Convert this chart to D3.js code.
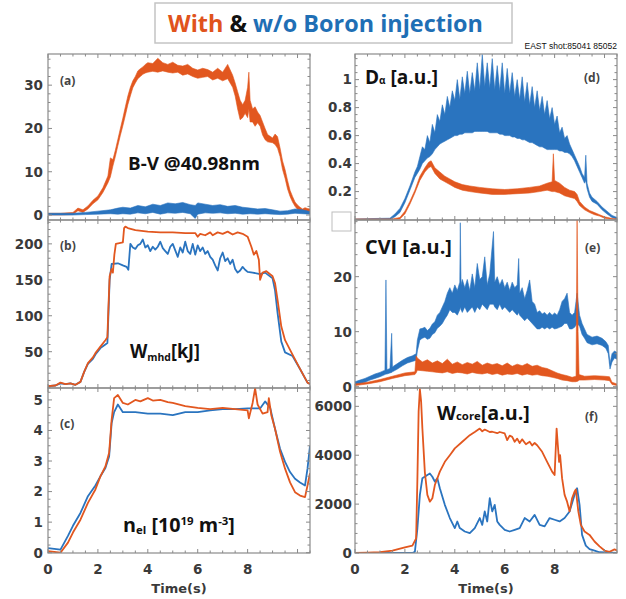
<!DOCTYPE html>
<html><head><meta charset="utf-8">
<script src="https://cdn.jsdelivr.net/npm/d3@7"></script>
<style>body{margin:0;background:#fff;} svg{display:block;}</style>
</head><body><svg id="c" width="626" height="599"></svg>
<script>
const ORANGE = "#e2571f", BLUE = "#2a74bf";

// ---------- DATA ----------
const timeTicks = [0, 2, 4, 6, 8];
const ticksA = [0, 10, 20, 30];
const ticksB = [50, 100, 150, 200];
const ticksC = [0, 1, 2, 3, 4, 5];
const ticksD = [0.2, 0.4, 0.6, 0.8, 1];
const ticksE = [0, 10, 20];
const ticksF = [0, 2000, 4000, 6000];

// (a) B-V @40.98nm  [t, low, high]
const bvWith = [[0,0,0.4],[0.5,0,0.4],[1.0,0.1,0.6],[1.2,1.0,1.6],[1.4,0.6,1.2],[1.6,1.4,2.1],[1.8,2.6,3.4],[2.0,3.5,4.4],[2.2,5.2,6.3],[2.4,7.4,9.0],[2.5,8.8,13.2],[2.6,11.3,12.8],[2.7,13.5,15],[2.8,16,17.5],[2.9,18.4,20],[3.0,20.6,22.4],[3.1,23,25],[3.2,25.5,27.5],[3.3,27.5,29.5],[3.4,29.4,31],[3.5,30.5,32],[3.6,31.5,33.3],[3.7,32,33.8],[3.8,32.5,34.2],[3.9,32.8,34.8],[4.0,33,35.2],[4.2,33.2,35],[4.4,33,36.2],[4.6,33.3,35.2],[4.8,33,34.8],[5.0,32.8,35.3],[5.2,33,34.6],[5.4,32.3,34.4],[5.6,32.6,34.8],[5.8,32,33.9],[6.0,31.6,33.5],[6.2,31.8,33.9],[6.4,32,33.6],[6.6,31.2,33],[6.8,31.6,33.9],[7.0,31,33],[7.2,31.5,34.8],[7.4,29.5,32.3],[7.5,27.5,30.5],[7.6,24.5,28.5],[7.7,22,26.5],[7.8,22.5,25.5],[7.9,23.5,26.5],[8.0,22.5,29.5],[8.05,24.5,33],[8.1,21.5,26.5],[8.2,21.5,24.5],[8.3,20.5,25],[8.4,21.3,23.8],[8.5,20.5,23],[8.6,18.5,21.5],[8.7,17.4,20],[8.8,16.9,18.6],[8.9,16.8,18.2],[9.0,16.7,17.8],[9.1,16.3,18.7],[9.2,15.4,18.1],[9.3,13.5,15.5],[9.4,10.5,12.5],[9.5,8.5,10.5],[9.6,6,8],[9.7,4.3,5.7],[9.8,3,4.3],[9.9,2,3],[10.0,1.3,2.3],[10.1,0.9,1.8],[10.2,0.5,1.4],[10.3,0.7,1.7],[10.4,0.6,1.5],[10.5,0.7,1.4]];
const bvWithout = [[0,0,0.4],[1.0,0,0.4],[1.5,0.1,0.6],[2.0,0.2,0.9],[2.5,0.3,1.2],[2.8,0.2,1.6],[3.0,0.3,1.8],[3.3,0.2,1.6],[3.6,0.5,2.2],[3.9,0.3,1.9],[4.2,0.6,2.5],[4.5,0.2,2.2],[4.8,0.5,2.8],[5.1,0.4,2.6],[5.4,0.6,2.9],[5.7,0.3,2.4],[5.9,-0.8,2.2],[6.0,0.2,2.8],[6.3,0.5,2.5],[6.6,0.4,2.2],[6.9,0.5,2.4],[7.2,0.3,2.0],[7.5,0.4,2.2],[7.8,0.2,1.8],[8.1,0.3,1.6],[8.4,0.2,1.4],[8.7,0.3,1.5],[9.0,0.2,1.2],[9.3,0.1,0.9],[9.6,0.2,1.0],[9.9,0.4,1.4],[10.2,0.3,1.2],[10.5,0.2,0.8]];

// (b) Wmhd [kJ]
const wmhdWith = [[0,2],[0.3,3],[0.5,7],[0.7,5],[0.9,6],[1.1,4],[1.3,8],[1.45,22],[1.6,34],[1.8,42],[1.9,48],[2.1,57],[2.3,66],[2.38,70],[2.42,110],[2.47,155],[2.55,165],[2.6,160],[2.66,185],[2.72,200],[3.0,202],[3.05,222],[3.1,224],[3.2,222],[3.5,219],[4.0,217],[4.5,216],[5.0,216],[5.5,215],[5.9,215],[6.0,210],[6.1,214],[6.3,212],[6.5,216],[6.6,212],[6.8,216],[7.0,214],[7.2,217],[7.4,213],[7.6,216],[7.8,214],[8.0,210],[8.15,196],[8.25,185],[8.35,190],[8.45,178],[8.5,150],[8.6,160],[8.75,162],[9.0,155],[9.1,145],[9.2,122],[9.35,85],[9.5,66],[9.8,46],[10.1,26],[10.4,7],[10.5,5]];
const wmhdWithout = [[0,2],[0.3,3],[0.5,6],[0.7,5],[0.9,6],[1.1,4],[1.3,8],[1.45,22],[1.6,33],[1.8,40],[1.9,46],[2.1,55],[2.3,60],[2.38,62],[2.42,100],[2.47,150],[2.55,172],[2.8,173],[3.0,170],[3.15,168],[3.22,164],[3.3,200],[3.4,195],[3.5,193],[3.6,198],[3.7,200],[3.8,206],[3.9,195],[4.0,198],[4.1,190],[4.2,196],[4.3,192],[4.4,196],[4.5,203],[4.6,194],[4.7,190],[4.8,186],[4.9,196],[5.0,200],[5.1,191],[5.2,182],[5.3,195],[5.4,188],[5.5,203],[5.6,190],[5.7,186],[5.8,200],[5.9,185],[6.0,198],[6.1,190],[6.2,195],[6.3,186],[6.4,190],[6.5,182],[6.6,178],[6.7,170],[6.8,163],[6.9,180],[7.0,188],[7.1,176],[7.2,180],[7.3,172],[7.4,178],[7.5,165],[7.6,160],[7.7,163],[7.8,168],[7.9,164],[8.0,161],[8.2,160],[8.5,158],[8.7,160],[9.0,152],[9.1,135],[9.2,104],[9.35,64],[9.5,49],[9.8,44],[10.1,26],[10.4,7],[10.5,5]];

// (c) nel [10^19 m^-3]
const nelWith = [[0,0.05],[0.5,0],[0.8,0.33],[1.0,0.66],[1.3,1.08],[1.6,1.63],[1.9,2.07],[2.1,2.5],[2.3,2.82],[2.45,3.27],[2.55,4.35],[2.65,5.06],[2.8,5.16],[3.0,4.9],[3.2,4.85],[3.5,5.0],[3.7,4.95],[4.0,5.06],[4.2,4.98],[4.5,5.0],[4.8,4.93],[5.0,4.9],[5.5,4.8],[6.0,4.74],[6.5,4.7],[7.0,4.74],[7.5,4.7],[8.0,4.66],[8.05,4.4],[8.2,4.9],[8.3,5.38],[8.4,4.85],[8.6,4.55],[8.8,4.6],[8.85,5.06],[8.95,4.5],[9.1,4.05],[9.3,3.3],[9.5,2.75],[9.7,2.3],[9.9,1.98],[10.1,1.87],[10.3,1.82],[10.4,2.2],[10.5,2.6]];
const nelWithout = [[0,0.15],[0.5,0.1],[0.8,0.55],[1.0,0.88],[1.3,1.3],[1.6,1.85],[1.9,2.2],[2.1,2.5],[2.3,2.77],[2.45,3.15],[2.55,4.24],[2.65,4.6],[2.8,4.85],[3.0,4.6],[3.5,4.6],[4.0,4.55],[4.5,4.55],[5.0,4.5],[5.5,4.6],[6.0,4.6],[6.5,4.66],[7.0,4.7],[7.5,4.7],[8.0,4.72],[8.5,4.72],[8.7,4.95],[8.9,4.75],[9.1,4.05],[9.3,3.4],[9.5,2.97],[9.7,2.64],[9.9,2.42],[10.1,2.3],[10.3,2.2],[10.4,2.75],[10.5,3.5]];

// (d) D-alpha [a.u.]  [t, low, high]
const daWith = [[0,0,0.005],[1.5,0,0.005],[1.8,0.005,0.015],[2.0,0.04,0.06],[2.2,0.11,0.13],[2.4,0.19,0.21],[2.6,0.28,0.31],[2.8,0.34,0.37],[2.95,0.37,0.41],[3.05,0.38,0.42],[3.2,0.33,0.37],[3.4,0.29,0.34],[3.6,0.27,0.31],[3.8,0.25,0.29],[4.0,0.23,0.27],[4.3,0.21,0.25],[4.6,0.2,0.24],[5.0,0.19,0.23],[5.5,0.18,0.22],[6.0,0.18,0.215],[6.5,0.185,0.22],[7.0,0.19,0.23],[7.4,0.2,0.24],[7.7,0.21,0.26],[7.9,0.2,0.27],[7.95,0.2,0.47],[8.0,0.2,0.28],[8.2,0.19,0.26],[8.4,0.17,0.23],[8.6,0.16,0.21],[8.8,0.15,0.2],[8.9,0.13,0.18],[9.0,0.1,0.13],[9.2,0.07,0.09],[9.4,0.05,0.065],[9.6,0.035,0.05],[9.8,0.025,0.035],[10.0,0.01,0.02],[10.3,0.002,0.008],[10.5,0,0.005]];
const daWithout = [[0,0,0.005],[1.4,0,0.01],[1.6,0.02,0.04],[1.8,0.05,0.08],[2.0,0.12,0.15],[2.2,0.21,0.24],[2.4,0.3,0.34],[2.5,0.33,0.38],[2.6,0.36,0.45],[2.7,0.4,0.52],[2.8,0.42,0.5],[2.9,0.44,0.6],[3.0,0.45,0.55],[3.1,0.47,0.68],[3.2,0.5,0.62],[3.3,0.52,0.75],[3.4,0.54,0.7],[3.5,0.55,0.82],[3.6,0.56,0.75],[3.7,0.57,0.88],[3.8,0.58,0.8],[3.9,0.59,0.92],[4.0,0.6,0.85],[4.1,0.6,1.0],[4.2,0.61,0.86],[4.3,0.61,1.02],[4.4,0.62,0.9],[4.5,0.62,1.06],[4.6,0.62,0.9],[4.7,0.62,1.05],[4.8,0.63,0.92],[4.9,0.63,1.12],[5.0,0.63,0.93],[5.1,0.63,1.18],[5.2,0.63,0.95],[5.3,0.63,1.12],[5.4,0.62,0.94],[5.5,0.62,1.15],[5.6,0.62,0.93],[5.7,0.62,1.1],[5.8,0.61,0.92],[5.9,0.61,1.12],[6.0,0.6,0.9],[6.1,0.6,1.08],[6.2,0.6,0.9],[6.3,0.59,1.05],[6.4,0.59,0.88],[6.5,0.58,1.0],[6.6,0.58,0.86],[6.7,0.57,1.02],[6.8,0.57,0.84],[6.9,0.56,0.98],[7.0,0.55,0.82],[7.1,0.55,0.95],[7.2,0.54,0.8],[7.3,0.53,0.92],[7.4,0.52,0.78],[7.5,0.52,0.88],[7.6,0.51,0.75],[7.7,0.5,0.85],[7.8,0.5,0.72],[7.9,0.5,0.8],[8.0,0.5,0.68],[8.1,0.5,0.74],[8.2,0.49,0.62],[8.3,0.49,0.66],[8.4,0.48,0.58],[8.5,0.48,0.6],[8.6,0.47,0.54],[8.7,0.45,0.5],[8.8,0.42,0.46],[8.9,0.38,0.42],[9.0,0.34,0.38],[9.1,0.3,0.33],[9.2,0.26,0.3],[9.25,0.28,0.46],[9.3,0.22,0.26],[9.4,0.16,0.19],[9.5,0.13,0.16],[9.7,0.11,0.13],[9.9,0.07,0.09],[10.1,0.04,0.06],[10.3,0.015,0.03],[10.5,0.005,0.015]];

// (e) CVI [a.u.]  [t, low, high]
const cviWith = [[0,0.2,0.5],[0.5,0.5,0.8],[1.0,0.9,1.3],[1.5,1.5,1.9],[2.0,2.0,2.5],[2.4,2.2,2.7],[2.45,2.5,5.6],[2.5,3.0,5.2],[2.7,2.9,4.5],[2.9,2.8,4.9],[3.1,2.7,4.3],[3.3,2.6,4.7],[3.5,2.5,4.2],[3.7,2.7,5.0],[3.9,2.4,4.1],[4.1,2.6,4.5],[4.3,2.5,4.0],[4.5,2.3,4.4],[4.7,2.6,4.1],[4.9,2.4,4.6],[5.1,2.3,3.9],[5.3,2.5,4.3],[5.5,2.2,4.0],[5.7,2.4,4.2],[5.9,2.1,3.8],[6.1,2.3,4.3],[6.3,2.2,3.7],[6.5,2.4,4.1],[6.7,2.1,3.8],[6.9,2.3,4.2],[7.1,2.1,3.7],[7.3,2.2,3.9],[7.5,2.0,3.5],[7.7,1.9,3.3],[7.9,1.7,2.9],[8.1,1.5,2.5],[8.3,1.2,2.2],[8.5,1.1,2.0],[8.7,0.9,1.7],[8.86,0.9,1.9],[8.9,1.0,31],[8.94,1.0,10],[8.98,1.2,2.2],[9.2,1.2,1.9],[9.6,1.3,2.0],[10.0,1.2,1.9],[10.2,1.1,1.8],[10.3,0.4,0.8],[10.5,0.2,0.5]];
const cviWithout = [[0,0.3,0.9],[0.2,0.5,1.2],[0.4,0.8,1.5],[0.6,1.2,1.9],[0.8,1.5,2.3],[1.0,1.8,2.6],[1.2,2.2,3.0],[1.24,2.3,19.4],[1.28,2.3,3.1],[1.4,2.5,3.3],[1.47,2.6,9.7],[1.5,2.7,3.6],[1.7,3.2,4.2],[1.9,3.8,4.8],[2.1,4.3,5.3],[2.3,4.6,5.6],[2.45,4.8,6.0],[2.5,6.5,8.5],[2.6,8.5,10.5],[2.7,8.8,10.6],[2.8,9.0,10.8],[2.9,8.6,10.2],[3.0,8.8,10.6],[3.1,9.5,11.4],[3.2,9.8,11.8],[3.3,10.6,13.0],[3.4,11.0,13.5],[3.5,11.5,14.5],[3.6,12.3,15.5],[3.7,13.0,17.0],[3.8,14.0,18.0],[3.9,13.5,17.0],[4.0,13.5,18.5],[4.1,13.0,17.5],[4.2,14.0,19.0],[4.22,14.5,29.8],[4.25,14.0,18.5],[4.3,13.5,19.5],[4.4,14.5,18.0],[4.5,13.5,19.5],[4.6,14.0,17.5],[4.7,14.5,20.5],[4.8,13.5,18.0],[4.9,14.5,22.4],[5.0,14.0,19.5],[5.1,15.0,20.0],[5.2,14.5,23.6],[5.3,14.0,18.5],[5.4,15.0,20.5],[5.55,15.0,28.2],[5.6,14.5,19.0],[5.7,14.0,20.0],[5.8,15.0,18.5],[5.9,14.0,19.5],[6.0,14.5,18.0],[6.1,14.0,19.0],[6.2,13.5,17.5],[6.3,14.0,19.0],[6.4,13.5,18.0],[6.5,13.0,18.5],[6.56,13.5,23.3],[6.6,13.0,17.0],[6.7,12.5,18.0],[6.8,12.0,16.0],[6.9,12.5,17.5],[7.0,12.0,19.4],[7.1,11.5,15.5],[7.2,11.0,15.0],[7.3,10.5,13.5],[7.4,10.5,13.8],[7.5,10.8,13.2],[7.6,10.5,13.5],[7.7,10.8,13.0],[7.8,10.5,13.5],[7.9,10.8,13.0],[8.0,10.5,13.4],[8.1,10.6,13.0],[8.2,10.8,14.0],[8.3,11.0,15.5],[8.4,11.5,16.0],[8.5,11.5,17.0],[8.6,10.5,13.5],[8.7,10.5,13.0],[8.8,10.8,13.5],[8.9,11.5,17.0],[9.0,11.0,13.0],[9.1,9.5,11.5],[9.2,8.8,10.5],[9.3,8.0,9.5],[9.5,7.6,9.0],[9.7,7.8,9.2],[9.9,7.5,8.8],[10.05,7.0,8.2],[10.15,6.0,7.5],[10.22,3.2,4.2],[10.3,4.5,6.0],[10.4,5.2,6.5],[10.5,5.0,6.2]];

// (f) Wcore [a.u.]
const wcoreWith = [[0,0],[0.5,10],[1.0,30],[1.5,95],[2.0,230],[2.3,300],[2.45,600],[2.5,3000],[2.55,5800],[2.6,6700],[2.65,6200],[2.7,5100],[2.8,3300],[2.9,2380],[3.0,2100],[3.1,2240],[3.2,2780],[3.4,3330],[3.6,3730],[3.8,4000],[4.0,4280],[4.3,4550],[4.6,4820],[4.8,4950],[5.0,5090],[5.1,4980],[5.2,5050],[5.4,4950],[5.5,4960],[5.7,4900],[5.8,4950],[6.0,4890],[6.1,4620],[6.2,4800],[6.3,4750],[6.4,4550],[6.5,4680],[6.6,4500],[6.7,4650],[6.85,4450],[7.0,4550],[7.1,4400],[7.2,4500],[7.3,4410],[7.5,4140],[7.7,3730],[7.9,3330],[8.0,3190],[8.08,5090],[8.13,4400],[8.18,3730],[8.22,4000],[8.3,3050],[8.4,2380],[8.5,2100],[8.6,1700],[8.7,2240],[8.8,2510],[8.85,2600],[8.95,1700],[9.05,1150],[9.2,880],[9.4,740],[9.6,470],[9.8,270],[10.0,100],[10.2,50],[10.4,150],[10.5,100]];
const wcoreWithout = [[0,0],[2.3,0],[2.4,50],[2.5,1000],[2.6,2380],[2.7,3060],[2.9,3190],[3.0,3250],[3.1,3120],[3.2,2920],[3.3,3060],[3.4,2650],[3.6,1970],[3.8,1430],[4.0,1020],[4.1,1290],[4.2,1020],[4.4,880],[4.6,810],[4.8,1020],[5.0,1430],[5.1,1150],[5.2,1700],[5.3,1290],[5.4,2240],[5.5,1700],[5.6,1970],[5.7,1290],[5.8,1150],[6.0,950],[6.2,880],[6.4,950],[6.6,1020],[6.8,1430],[7.0,1290],[7.2,1560],[7.4,1150],[7.6,1090],[7.8,1430],[8.0,1360],[8.2,1290],[8.4,1430],[8.6,1700],[8.8,2380],[8.9,2650],[9.0,1970],[9.1,740],[9.25,300],[9.4,160],[9.6,100],[9.8,30],[10.5,0]];

// ---------- DRAW ----------
const svg = d3.select("#c");
svg.append("rect").attr("width",626).attr("height",599).attr("fill","#fff");

const colL = {x0:48, x1:310}, colR = {x0:355, x1:617};
const rows = [[54,220],[220,388],[388,553]];
const TICKFONT = "'DejaVu Sans', sans-serif";

const panels = [
  {id:"a", col:colL, row:rows[0], ydom:[-1.15,37.2], yticks:ticksA, ystep:2, order:[[bvWith,ORANGE,true],[bvWithout,BLUE,true]]},
  {id:"b", col:colL, row:rows[1], ydom:[-0.5,233.2], yticks:ticksB, ystep:10, order:[[wmhdWithout,BLUE,false],[wmhdWith,ORANGE,false]]},
  {id:"c", col:colL, row:rows[2], ydom:[-0.01,5.39], yticks:ticksC, ystep:0.25, order:[[nelWithout,BLUE,false],[nelWith,ORANGE,false]], xaxis:true},
  {id:"d", col:colR, row:rows[0], ydom:[-0.003,1.183], yticks:ticksD, ystep:0.05, order:[[daWithout,BLUE,true],[daWith,ORANGE,true]]},
  {id:"e", col:colR, row:rows[1], ydom:[-0.24,30.3], yticks:ticksE, ystep:2, order:[[cviWithout,BLUE,true],[cviWith,ORANGE,true]]},
  {id:"f", col:colR, row:rows[2], ydom:[0,6750], yticks:ticksF, ystep:400, order:[[wcoreWithout,BLUE,false],[wcoreWith,ORANGE,false]], xaxis:true}
];

const defs = svg.append("defs");
panels.forEach(p => {
  const x = d3.scaleLinear().domain([0,10.5]).range([p.col.x0, p.col.x1]);
  const y = d3.scaleLinear().domain(p.ydom).range([p.row[1], p.row[0]]);
  const g = svg.append("g");
  defs.append("clipPath").attr("id","clip"+p.id).append("rect")
    .attr("x",p.col.x0).attr("y",p.row[0]).attr("width",p.col.x1-p.col.x0).attr("height",p.row[1]-p.row[0]);
  const plot = g.append("g").attr("clip-path",`url(#clip${p.id})`);
  p.order.forEach(([data,color,noisy]) => {
    if (noisy) {
      const area = d3.area().x(d=>x(d[0])).y0(d=>y(d[1])).y1(d=>y(d[2]));
      plot.append("path").attr("d",area(data)).attr("fill",color).attr("stroke",color).attr("stroke-width",0.6).attr("stroke-linejoin","round");
    } else {
      const line = d3.line().x(d=>x(d[0])).y(d=>y(d[1]));
      plot.append("path").attr("d",line(data)).attr("fill","none").attr("stroke",color).attr("stroke-width",1.8).attr("stroke-linejoin","round");
    }
  });
  // minor ticks
  const tk = g.append("g").attr("stroke","#8a8a8a").attr("stroke-width",1);
  d3.range(0,10.5+1e-9,0.5).forEach(t => {
    const L = (Math.abs(t%2)<1e-6)?4:2.5;
    tk.append("line").attr("x1",x(t)).attr("x2",x(t)).attr("y1",p.row[1]).attr("y2",p.row[1]-L);
    tk.append("line").attr("x1",x(t)).attr("x2",x(t)).attr("y1",p.row[0]).attr("y2",p.row[0]+L);
  });
  const ys = d3.range(Math.ceil(p.ydom[0]/p.ystep)*p.ystep, p.ydom[1], p.ystep);
  ys.forEach(v => {
    const major = p.yticks.some(t=>Math.abs(t-v)<p.ystep/10);
    const L = major?4:2.5;
    tk.append("line").attr("x1",p.col.x0).attr("x2",p.col.x0+L).attr("y1",y(v)).attr("y2",y(v));
    tk.append("line").attr("x1",p.col.x1).attr("x2",p.col.x1-L).attr("y1",y(v)).attr("y2",y(v));
  });
  // frame
  g.append("rect").attr("x",p.col.x0).attr("y",p.row[0]).attr("width",p.col.x1-p.col.x0).attr("height",p.row[1]-p.row[0])
    .attr("fill","none").attr("stroke","#8a8a8a").attr("stroke-width",1.2);
  // y tick labels
  const lx = p.col === colL ? p.col.x0-5 : p.col.x0-3;
  g.selectAll("text.yt").data(p.yticks).enter().append("text")
    .attr("x",lx).attr("y",d=>y(d)).attr("dy","0.36em").attr("text-anchor","end")
    .attr("font-family",TICKFONT).attr("font-weight","bold").attr("font-size",13.5).attr("fill","#3a3a3a")
    .text(d=>d3.format("~g")(d));
  if (p.xaxis) {
    g.selectAll("text.xt").data(timeTicks).enter().append("text")
      .attr("x",d=>x(d)).attr("y",574).attr("text-anchor","middle")
      .attr("font-family",TICKFONT).attr("font-weight","bold").attr("font-size",13.5).attr("fill","#3a3a3a")
      .text(d=>d);
    g.append("text").attr("x",(p.col.x0+p.col.x1)/2).attr("y",593).attr("text-anchor","middle")
      .attr("font-family",TICKFONT).attr("font-weight","bold").attr("font-size",13).attr("fill","#3a3a3a")
      .text("Time(s)");
  }
});

// ---------- LABELS ----------
function rich(parts, x0, base, width, color, family) {
  const t = svg.append("text").attr("y",base).attr("font-family",family||"'Open Sans', sans-serif")
    .attr("font-weight","bold").attr("fill",color||"#111");
  parts.forEach(pt => {
    t.append("tspan").attr("y",base+(pt.dy||0)).attr("font-size",pt.s).attr("fill",pt.c||null).text(pt.t);
  });
  const b = t.node().getBBox();
  const s = width ? width/b.width : 1;
  t.attr("transform",`translate(${x0},0) scale(${s},1) translate(${-b.x},0)`);
  return t;
}

// title box
svg.append("rect").attr("x",155).attr("y",3).attr("width",357).attr("height",40).attr("fill","#fff").attr("stroke","#c4c4c4").attr("stroke-width",1.5);
rich([{t:"With",s:23,c:"#e0531c"},{t:" & ",s:23,c:"#111"},{t:"w/o Boron injection",s:23,c:"#1f6fb5"}],168,32,315,null,"'Open Sans', sans-serif");
svg.append("text").attr("x",617).attr("y",49).attr("text-anchor","end").attr("font-family","'Liberation Sans', Arial, sans-serif")
  .attr("font-size",8.5).attr("fill","#111").text("EAST shot:85041  85052");

// small empty box
svg.append("rect").attr("x",332).attr("y",212).attr("width",19).attr("height",19).attr("fill","#fff").attr("stroke","#bdbdbd").attr("stroke-width",1);

// panel tags
const tagStyle = (x,y,s) => svg.append("text").attr("x",x).attr("y",y).attr("font-family","'Open Sans', sans-serif")
  .attr("font-weight","bold").attr("font-size",12).attr("fill","#444").text(s);
tagStyle(60,85,"(a)");
tagStyle(60,250,"(b)");
tagStyle(60,428,"(c)");
tagStyle(584,82,"(d)");
tagStyle(585,252,"(e)");
tagStyle(585,421,"(f)");

// in-panel labels
rich([{t:"B-V @40.98nm",s:18}],128,170,132);
rich([{t:"W",s:19},{t:"mhd",s:11,dy:3},{t:"[kJ]",s:19}],130,358,70);
rich([{t:"n",s:19},{t:"el",s:11,dy:2},{t:" [10",s:19},{t:"19",s:11,dy:-7},{t:" m",s:19},{t:"-3",s:11,dy:-7},{t:"]",s:19}],123,532,112);
rich([{t:"D",s:19},{t:"α",s:10},{t:" [a.u.]",s:19}],365,84,73);
rich([{t:"CVI [a.u.]",s:19}],365,254,87);
rich([{t:"W",s:19},{t:"core",s:11},{t:"[a.u.]",s:19}],437,420,93);
</script></body></html>
